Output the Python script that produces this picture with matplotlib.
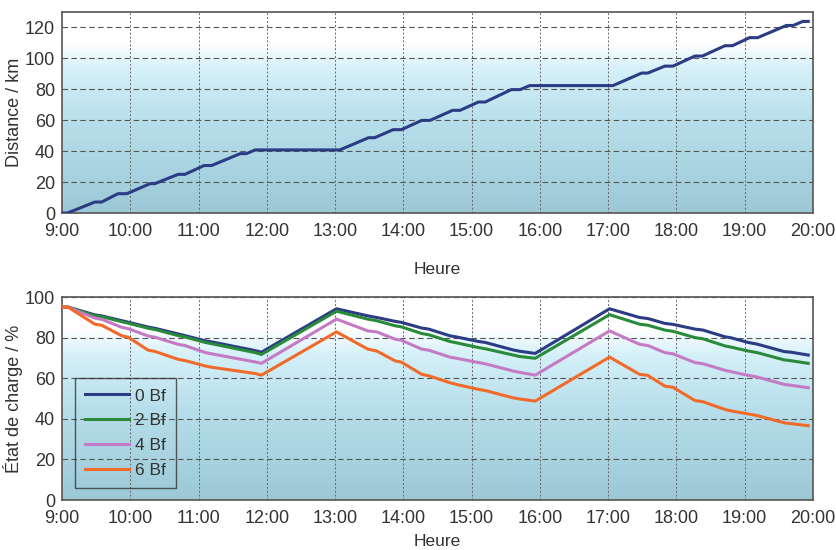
import numpy as np
import matplotlib
matplotlib.use("Agg")
import matplotlib.pyplot as plt
from matplotlib.colors import LinearSegmentedColormap

plt.rcParams['font.family'] = ['Liberation Sans', 'DejaVu Sans']

# distance parcourue (heures décimales)
t_dist = [9.0, 9.08, 9.48, 9.58, 9.82, 9.95, 10.29, 10.36, 10.70, 10.80, 11.08, 11.19,
          11.61, 11.70, 11.83, 13.07, 13.49, 13.58, 13.85, 13.97, 14.27, 14.39, 14.72,
          14.83, 15.10, 15.20, 15.58, 15.71, 15.85, 17.07, 17.49, 17.58, 17.83, 17.95,
          18.27, 18.38, 18.71, 18.82, 19.07, 19.19, 19.61, 19.71, 19.85, 19.93]
dist = [0, 0, 7.1, 7.1, 12.5, 12.5, 19, 19, 25, 25, 30.7, 30.7,
        38.4, 38.4, 40.8, 40.8, 48.7, 48.7, 53.9, 53.9, 59.9, 59.9, 66.4,
        66.4, 71.8, 71.8, 79.8, 79.8, 82.4, 82.4, 90.5, 90.5, 95.0, 95.0,
        101.5, 101.5, 108.2, 108.2, 113.4, 113.4, 121.3, 121.3, 123.9, 123.9]

# état de charge selon la force du vent
t_soc = [9.0, 9.09, 9.48, 9.58, 9.88, 9.97, 10.26, 10.36, 10.70, 10.80, 11.10, 11.19,
         11.83, 11.92, 13.02, 13.48, 13.61, 13.88, 13.97, 14.27, 14.37, 14.68, 14.78,
         15.10, 15.20, 15.61, 15.70, 15.93, 17.02, 17.46, 17.58, 17.83, 17.95, 18.27,
         18.39, 18.71, 18.80, 19.05, 19.18, 19.58, 19.68, 19.93]
soc_0bf = [95, 95, 91.2, 90.7, 88.3, 87.6, 85.2, 84.6, 81.8, 81.0, 78.4, 77.9,
           73.6, 72.8, 94.2, 90.7, 89.9, 88.0, 87.5, 84.7, 84.2, 80.9, 80.3,
           78.1, 77.6, 73.9, 73.3, 72.2, 94.2, 89.9, 89.4, 87.0, 86.5, 84.2,
           83.7, 80.4, 79.9, 77.6, 76.8, 73.1, 72.8, 71.4]
soc_2bf = [95, 95, 90.8, 90.3, 87.8, 87.1, 84.6, 84.0, 81.0, 80.3, 77.6, 77.0,
           72.6, 71.7, 93.0, 89.1, 88.3, 85.8, 85.3, 82.0, 81.4, 78.1, 77.4,
           75.1, 74.5, 71.4, 70.7, 69.8, 91.3, 86.6, 86.1, 83.7, 83.1, 80.0,
           79.4, 75.9, 75.3, 73.4, 72.6, 69.0, 68.6, 67.3]
soc_4bf = [95, 95, 89.6, 89.0, 85.0, 84.4, 80.8, 80.2, 76.7, 76.1, 72.6, 72.0,
           68.0, 67.3, 89.1, 83.3, 82.8, 79.2, 78.7, 74.3, 73.8, 70.4, 69.8,
           67.7, 67.1, 63.5, 62.9, 61.5, 83.3, 76.7, 76.1, 72.6, 72.0, 67.7,
           67.1, 63.9, 63.2, 61.4, 60.6, 56.9, 56.5, 55.3]
soc_6bf = [95, 95, 86.6, 86.1, 80.8, 80.2, 73.8, 73.2, 69.3, 68.7, 66.0, 65.4,
           62.3, 61.5, 82.8, 74.3, 73.4, 68.5, 67.9, 61.9, 61.2, 57.8, 56.9,
           54.5, 53.9, 50.3, 49.8, 48.7, 70.4, 61.9, 61.4, 56.1, 55.5, 49.0,
           48.4, 44.6, 43.9, 42.4, 41.6, 38.0, 37.6, 36.6]

hours = list(range(9, 21))
hour_labels = [f"{h}:00" for h in hours]

fig = plt.figure(figsize=(8.36, 5.5), dpi=100)
ax1 = fig.add_axes([0.0742, 0.6127, 0.8983, 0.3655])
ax2 = fig.add_axes([0.0742, 0.0909, 0.8983, 0.3691])

grad = LinearSegmentedColormap.from_list(
    "fond", [(0.0, "#9cc8d6"), (0.45, "#b7dfeb"), (0.72, "#d6f1f9"), (0.84, "#ffffff"), (1.0, "#ffffff")])
txt = "#333333"
edge = "#555555"


def decor(ax, ymax, yticks, ylabel, xlabelpad):
    ax.imshow(np.linspace(0, 1, 256).reshape(-1, 1), origin="lower", aspect="auto",
              cmap=grad, extent=[9, 20, 0, ymax], zorder=0)
    ax.set_xlim(9, 20)
    ax.set_ylim(0, ymax)
    ax.set_xticks(hours)
    ax.set_xticklabels(hour_labels)
    ax.set_yticks(yticks)
    for y in yticks[1:]:
        ax.axhline(y, color="#555555", lw=0.8, ls=(0, (5, 3)), zorder=1)
    for h in hours[1:-1]:
        ax.axvline(h, color="#666666", lw=0.7, ls=(0, (2, 2)), zorder=1)
    ax.tick_params(length=0, labelsize=13, colors=txt)
    ax.tick_params(axis="x", pad=7)
    ax.tick_params(axis="y", pad=5)
    for s in ax.spines.values():
        s.set_color(edge)
        s.set_linewidth(1.2)
    ax.set_xlabel("Heure", fontsize=12.5, color=txt, labelpad=xlabelpad)
    ax.set_ylabel(ylabel, fontsize=13, color=txt, labelpad=0)
    ax.yaxis.set_label_coords(-0.052, 0.5)


decor(ax1, 130, list(range(0, 121, 20)), "Distance / km", 16)
ax1.plot(t_dist, dist, color="#2b3c84", lw=2.2, zorder=3)

decor(ax2, 100, list(range(0, 101, 20)), "État de charge / %", 5)
ax2.plot(t_soc, soc_0bf, color="#2b3c84", lw=2.2, zorder=3, label="0 Bf")
ax2.plot(t_soc, soc_2bf, color="#2a8a3a", lw=2.2, zorder=3, label="2 Bf")
ax2.plot(t_soc, soc_4bf, color="#c47ac4", lw=2.2, zorder=3, label="4 Bf")
ax2.plot(t_soc, soc_6bf, color="#f26a2a", lw=2.2, zorder=3, label="6 Bf")

leg = ax2.legend(loc="lower left", bbox_to_anchor=(0.017, 0.059), borderaxespad=0,
                 fontsize=12.5, frameon=True, fancybox=False, handlelength=2.5,
                 borderpad=0.6, labelspacing=0.55, handletextpad=0.35)
leg.get_frame().set_edgecolor("#333333")
leg.get_frame().set_facecolor("none")
leg.get_frame().set_linewidth(1.0)
for t in leg.get_texts():
    t.set_color(txt)

fig.savefig("out.png", dpi=100)
